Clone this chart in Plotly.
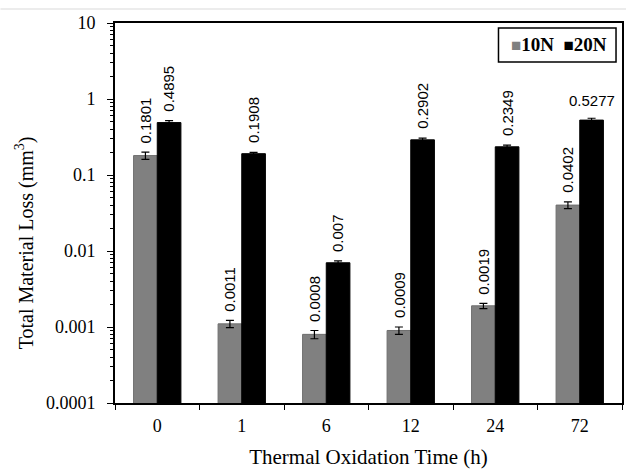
import plotly.graph_objects as go
import math

categories = ["0", "1", "6", "12", "24", "72"]
loss_10n = [0.1801, 0.0011, 0.0008, 0.0009, 0.0019, 0.0402]
loss_20n = [0.4895, 0.1908, 0.007, 0.2902, 0.2349, 0.5277]
err_10n = [0.02, 0.00012, 0.0001, 0.0001, 0.00015, 0.004]
err_20n = [0.03, 0.008, 0.0004, 0.015, 0.013, 0.03]
labels_10n = ["0.1801", "0.0011", "0.0008", "0.0009", "0.0019", "0.0402"]
labels_20n = ["0.4895", "0.1908", "0.007", "0.2902", "0.2349", "0.5277"]
series_names = ["10N", "20N"]
series_colors = ["#808080", "#000000"]

serif = "Liberation Serif, Times New Roman, serif"
sans = "Liberation Sans, Arial, sans-serif"

W, H = 628, 471
ML, MR, MT, MB = 115, 4, 23, 68
PW, PH = W - ML - MR, H - MT - MB


def px(xp):
    return (xp - ML) / PW


def py(yp):
    return (H - MB - yp) / PH


fig = go.Figure()
fig.add_trace(go.Bar(
    name=series_names[0], x=categories, y=loss_10n, showlegend=False,
    marker=dict(color=series_colors[0], line=dict(color="#6e6e6e", width=1)),
    error_y=dict(type="data", array=err_10n, color="black", thickness=1.2, width=4),
))
fig.add_trace(go.Bar(
    name=series_names[1], x=categories, y=loss_20n, showlegend=False,
    marker=dict(color=series_colors[1], line=dict(color="#000000", width=1)),
    error_y=dict(type="data", array=err_20n, color="black", thickness=1.2, width=4),
))

off = 0.14
for i in range(len(categories)):
    fig.add_annotation(x=i - off, y=math.log10(loss_10n[i] + err_10n[i]), xref="x", yref="y",
                       text=labels_10n[i], textangle=-90, showarrow=False,
                       yanchor="bottom", yshift=7,
                       font=dict(family=sans, size=15, color="black"))
    horiz = (i == len(categories) - 1)
    fig.add_annotation(x=i + off, y=math.log10(loss_20n[i] + err_20n[i]), xref="x", yref="y",
                       text=labels_20n[i], textangle=0 if horiz else -90, showarrow=False,
                       yanchor="bottom", yshift=7,
                       font=dict(family=sans, size=15, color="black"))

# y-axis title
fig.add_annotation(x=px(24), y=py(243), xref="paper", yref="paper",
                   text="Total Material Loss (mm<sup>3</sup>)", textangle=-90, showarrow=False,
                   xanchor="center", yanchor="middle",
                   font=dict(family=serif, size=20, color="black"))

# legend box
fig.add_shape(type="rect", xref="paper", yref="paper",
              x0=px(500), x1=px(618), y0=py(62), y1=py(28),
              line=dict(color="black", width=1.5), fillcolor="white", layer="above")
leg_text = "&nbsp;&nbsp;".join(
    f'<span style="color:{c};font-size:17px">■</span>{n}'
    for n, c in zip(series_names, series_colors)
)
fig.add_annotation(x=px(561), y=py(45), xref="paper", yref="paper",
                   text=f"<b>{leg_text}</b>", showarrow=False,
                   xanchor="center", yanchor="middle",
                   font=dict(family=serif, size=19, color="black"))

fig.update_layout(
    width=W, height=H,
    margin=dict(l=ML, r=MR, t=MT, b=MB),
    paper_bgcolor="white", plot_bgcolor="white",
    barmode="group", bargap=0.44, bargroupgap=0,
    font=dict(family=serif, color="black"),
    showlegend=False,
    xaxis=dict(
        type="category", range=[-0.5, 5.5],
        showline=True, linecolor="black", linewidth=1.5, mirror=True,
        ticks="outside", tickson="boundaries", ticklen=5, tickcolor="black",
        ticklabelstandoff=6,
        tickfont=dict(family=serif, size=18, color="black"),
        title=dict(text="Thermal Oxidation Time (h)", font=dict(family=serif, size=21, color="black"), standoff=14),
        showgrid=False,
    ),
    yaxis=dict(
        type="log", range=[-4, 1],
        tickvals=[0.0001, 0.001, 0.01, 0.1, 1, 10],
        ticktext=["0.0001", "0.001", "0.01", "0.1", "1", "10"],
        showline=True, linecolor="black", linewidth=2, mirror=True,
        ticks="outside", ticklen=6, tickcolor="black",
        ticklabelstandoff=8,
        minor=dict(ticks="outside", ticklen=3, tickcolor="black", dtick="D1", showgrid=False),
        tickfont=dict(family=serif, size=18, color="black"),
        showgrid=False, zeroline=False,
    ),
)

fig.add_shape(type="line", xref="paper", yref="paper", x0=px(0), x1=px(W),
              y0=py(9), y1=py(9), line=dict(color="#e6e6e6", width=1.5))

fig.write_html("out.html")
